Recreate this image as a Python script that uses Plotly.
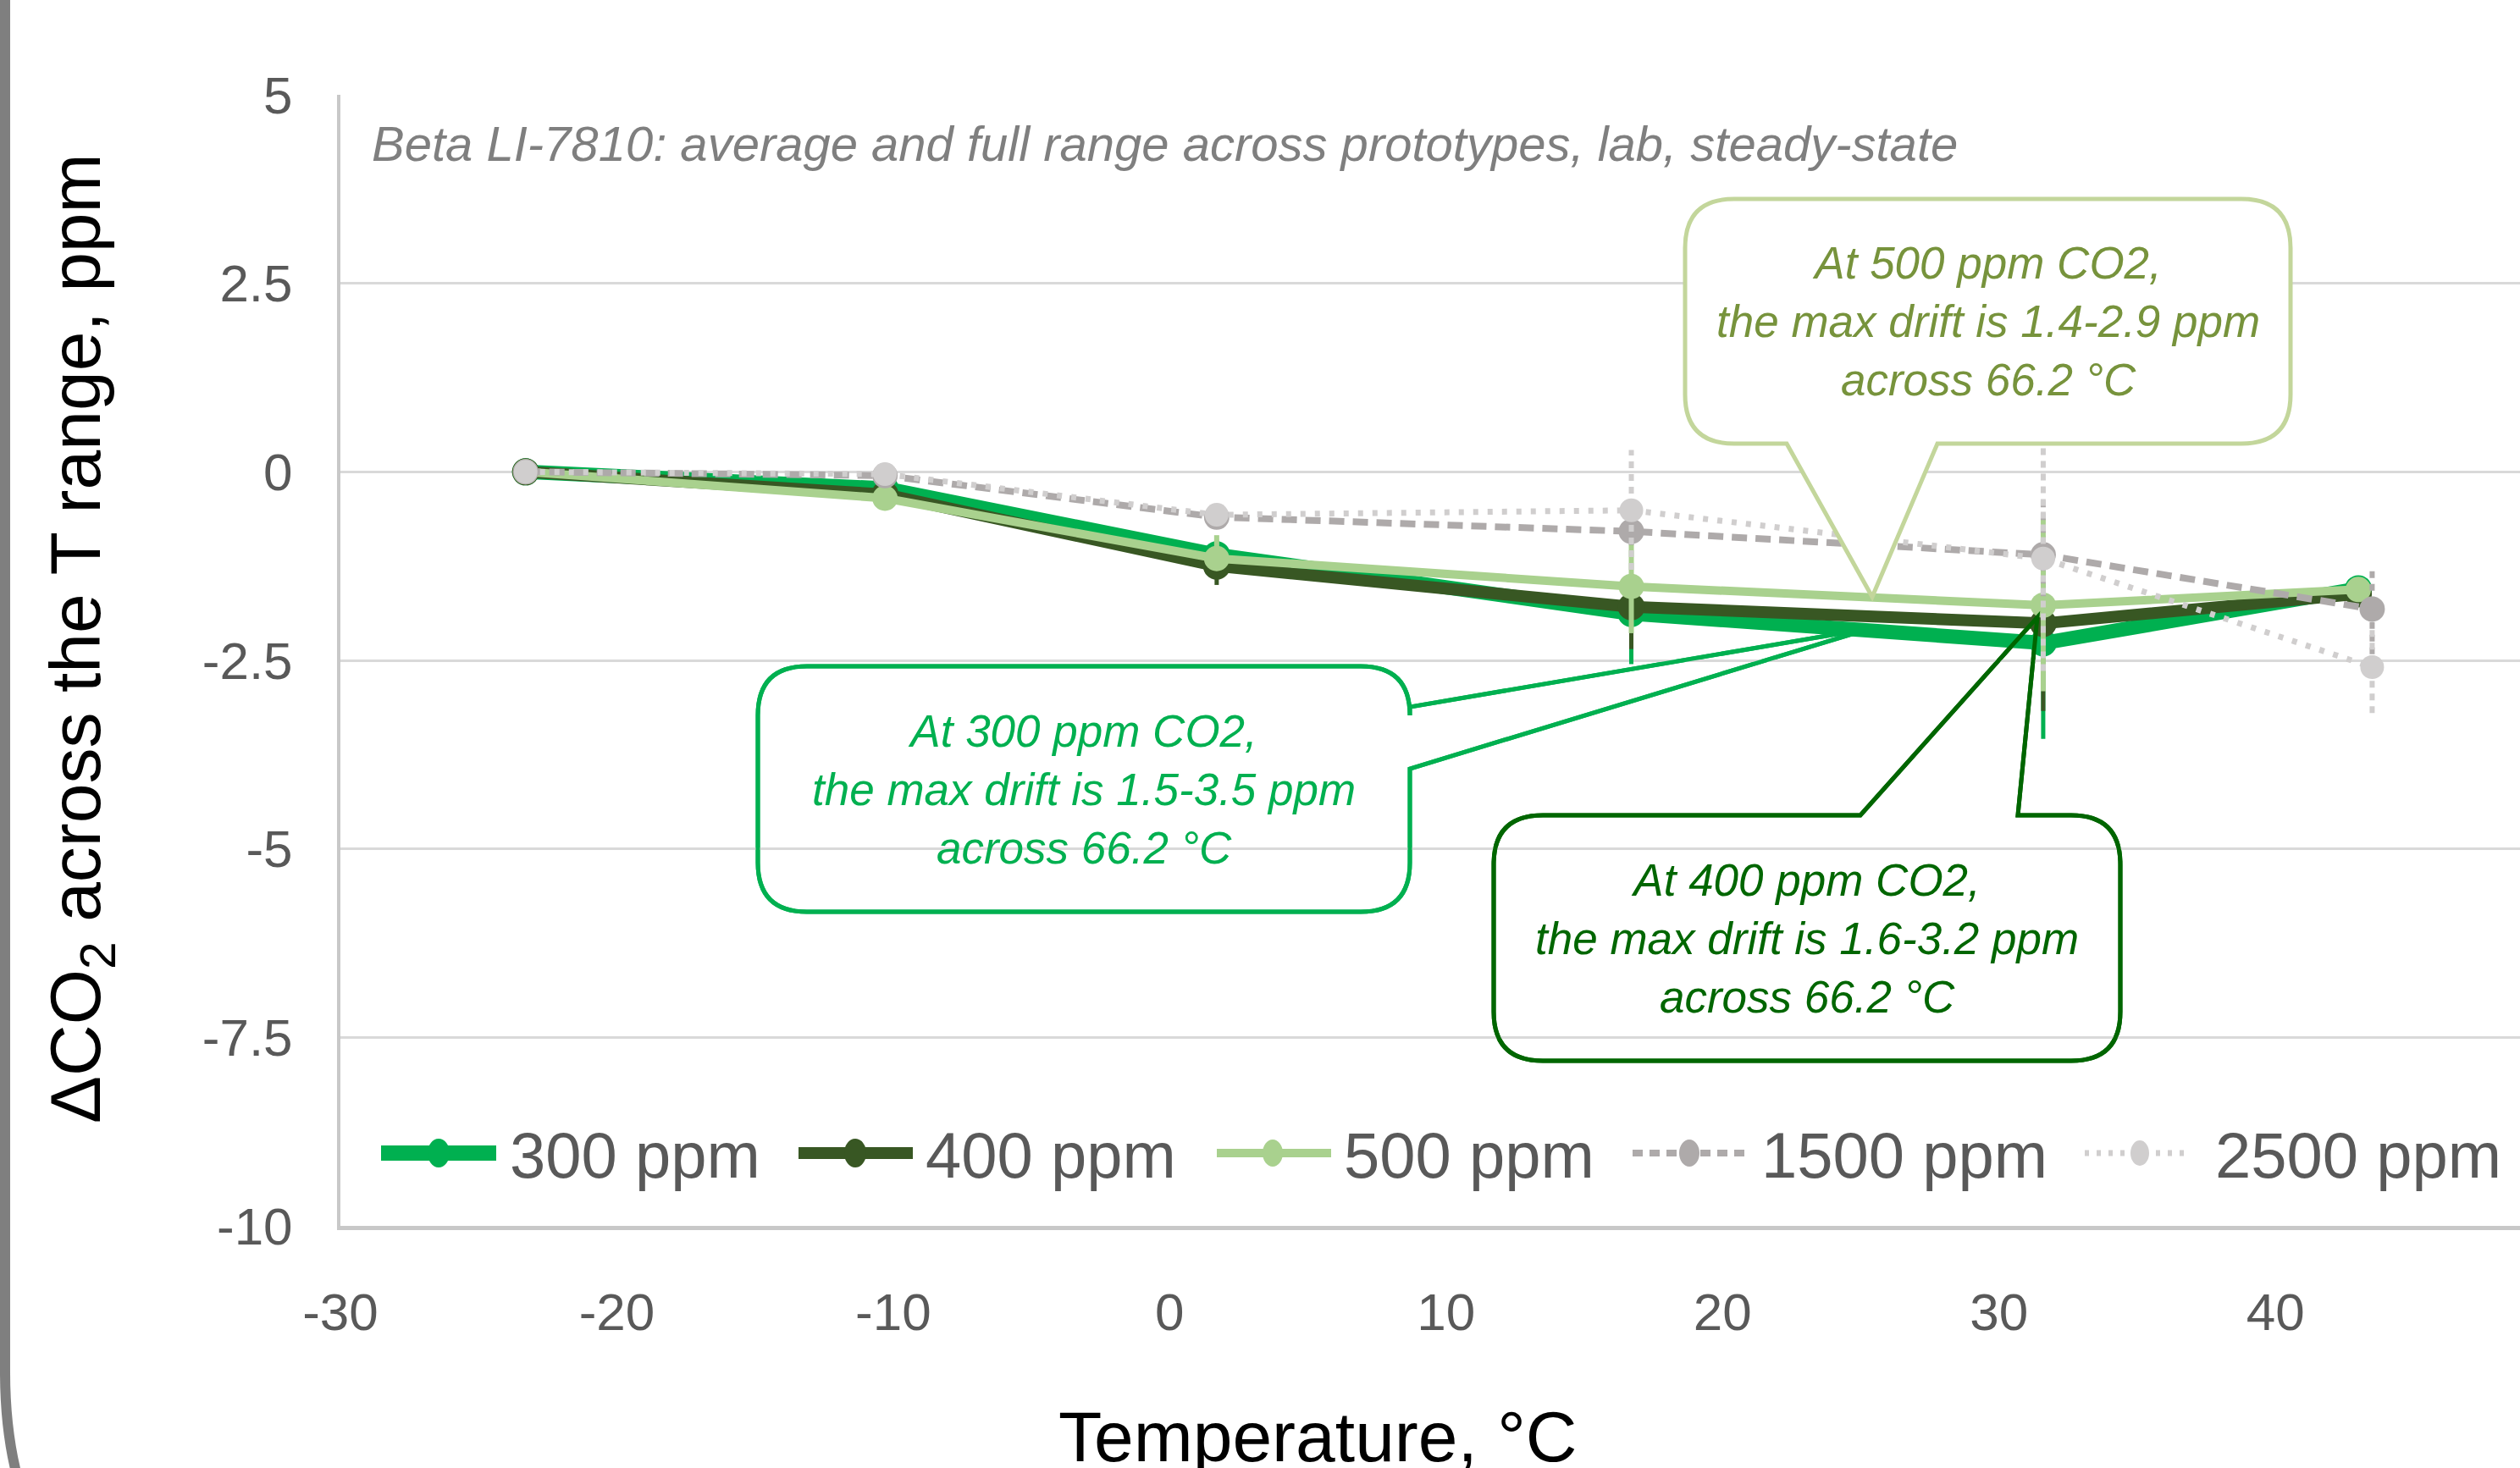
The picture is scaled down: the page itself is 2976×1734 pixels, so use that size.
import plotly.graph_objects as go

# ---------------- data ----------------
TEMP_GREEN = [-23.3, -10.3, 1.7, 16.7, 31.6, 43.0]
TEMP_GRAY = [-23.3, -10.3, 1.7, 16.7, 31.6, 43.5]

SERIES_NAMES = ["300 ppm", "400 ppm", "500 ppm", "1500 ppm", "2500 ppm"]

MEAN_300 = [0.0, -0.22, -1.10, -1.88, -2.27, -1.55]
MIN_300 = [0.0, -0.30, -1.35, -2.55, -3.54, -1.70]
MAX_300 = [0.0, -0.15, -0.90, -1.20, -1.00, -1.40]

MEAN_400 = [0.0, -0.30, -1.25, -1.79, -2.01, -1.62]
MIN_400 = [0.0, -0.40, -1.50, -2.35, -3.17, -1.75]
MAX_400 = [0.0, -0.20, -1.00, -1.30, -0.85, -1.45]

MEAN_500 = [0.0, -0.35, -1.15, -1.52, -1.77, -1.56]
MIN_500 = [0.0, -0.42, -1.30, -2.14, -2.91, -1.70]
MAX_500 = [0.0, -0.25, -0.84, -0.96, -0.62, -1.40]

MEAN_1500 = [0.0, -0.05, -0.60, -0.79, -1.10, -1.82]
MIN_1500 = [0.0, -0.10, -0.70, -0.97, -1.65, -2.42]
MAX_1500 = [0.0, 0.00, -0.50, -0.60, -0.31, -1.24]

MEAN_2500 = [0.0, -0.03, -0.57, -0.51, -1.15, -2.59]
MIN_2500 = [0.0, -0.08, -0.65, -1.30, -2.64, -3.20]
MAX_2500 = [0.0, 0.02, -0.50, 0.29, 0.33, -2.08]

X_TICKS = [-30, -20, -10, 0, 10, 20, 30, 40]
X_TICK_LABELS = ["-30", "-20", "-10", "0", "10", "20", "30", "40"]
Y_TICKS = [5, 2.5, 0, -2.5, -5, -7.5, -10]
Y_TICK_LABELS = ["5", "2.5", "0", "-2.5", "-5", "-7.5", "-10"]

TITLE = "Beta LI-7810: average and full range across prototypes, lab, steady-state"
Y_TITLE = "ΔCO<sub>2</sub> across the T range, ppm"
X_TITLE = "Temperature, °C"
CALLOUT_500 = "At 500 ppm CO2,<br>the max drift is 1.4-2.9 ppm<br>across 66.2 °C"
CALLOUT_300 = "At 300 ppm CO2,<br>the max drift is 1.5-3.5 ppm<br>across 66.2 °C"
CALLOUT_400 = "At 400 ppm CO2,<br>the max drift is 1.6-3.2 ppm<br>across 66.2 °C"

# ---------------- layout constants ----------------
W, H = 2976, 1734
PL, PR, PT, PB = 402, 2976, 112, 1448
X_RANGE = [-30, -30 + (PR - PL) / 32.645]
Y_RANGE = [-10, 5]

SANS = "Liberation Sans, Arial, sans-serif"

C300, C400, C500, C1500, C2500 = "#00B050", "#385723", "#A9D18E", "#AEAAAA", "#D0CECE"


def pxp(x):
    return (x - PL) / (PR - PL)


def pyp(y):
    return (PB - y) / (PB - PT)


series = [
    dict(name=SERIES_NAMES[0], x=TEMP_GREEN, m=MEAN_300, lo=MIN_300, hi=MAX_300, c=C300,
         w=17, dash="solid", ms=32, ew=5, edash="solid"),
    dict(name=SERIES_NAMES[1], x=TEMP_GREEN, m=MEAN_400, lo=MIN_400, hi=MAX_400, c=C400,
         w=14, dash="solid", ms=32, ew=5, edash="solid"),
    dict(name=SERIES_NAMES[2], x=TEMP_GREEN, m=MEAN_500, lo=MIN_500, hi=MAX_500, c=C500,
         w=10, dash="solid", ms=30, ew=6, edash="solid"),
    dict(name=SERIES_NAMES[3], x=TEMP_GRAY, m=MEAN_1500, lo=MIN_1500, hi=MAX_1500, c=C1500,
         w=8, dash="18px,10px", ms=30, ew=6, edash="8px,7px"),
    dict(name=SERIES_NAMES[4], x=TEMP_GRAY, m=MEAN_2500, lo=MIN_2500, hi=MAX_2500, c=C2500,
         w=7, dash="6px,11px", ms=28, ew=6, edash="8px,7px"),
]

fig = go.Figure()

for s in series:
    ex, ey = [], []
    for xv, lo, hi in zip(s["x"], s["lo"], s["hi"]):
        if hi - lo > 1e-9:
            ex += [xv, xv, None]
            ey += [lo, hi, None]
    fig.add_trace(go.Scatter(x=ex, y=ey, mode="lines", showlegend=False, hoverinfo="skip",
                             line=dict(color=s["c"], width=s["ew"], dash=s["edash"])))
    fig.add_trace(go.Scatter(x=s["x"], y=s["m"], name=s["name"], mode="lines+markers",
                             line=dict(color=s["c"], width=s["w"], dash=s["dash"]),
                             marker=dict(symbol="circle", size=s["ms"], color=s["c"],
                                         line=dict(width=0))))

# ---------------- shapes ----------------
shapes = []


def callout_path(x0, y0, x1, y1, r, side, a, b, tip):
    P = lambda X, Y: f"{pxp(X):.5f},{pyp(Y):.5f}"
    d = [f"M{P(x0 + r, y0)}"]
    if side == "top":
        d += [f"L{P(a, y0)}", f"L{P(*tip)}", f"L{P(b, y0)}"]
    d += [f"L{P(x1 - r, y0)}", f"Q{P(x1, y0)} {P(x1, y0 + r)}"]
    if side == "right":
        d += [f"L{P(x1, a)}", f"L{P(*tip)}", f"L{P(x1, b)}"]
    d += [f"L{P(x1, y1 - r)}", f"Q{P(x1, y1)} {P(x1 - r, y1)}"]
    if side == "bottom":
        d += [f"L{P(b, y1)}", f"L{P(*tip)}", f"L{P(a, y1)}"]
    d += [f"L{P(x0 + r, y1)}", f"Q{P(x0, y1)} {P(x0, y1 - r)}"]
    d += [f"L{P(x0, y0 + r)}", f"Q{P(x0, y0)} {P(x0 + r, y0)}", "Z"]
    return " ".join(d)


callouts = [
    dict(box=(1990, 235, 2705, 524), side="bottom", a=2110, b=2288, tip=(2211, 705),
         border="#C3D69B", text=CALLOUT_500, tc="#77933C", layer="above"),
    dict(box=(895, 787, 1665, 1077), side="right", a=835, b=908, tip=(2210, 742),
         border=C300, text=CALLOUT_300, tc=C300, layer="between"),
    dict(box=(1764, 963, 2504, 1253), side="top", a=2197, b=2383, tip=(2406, 729),
         border="#006600", text=CALLOUT_400, tc="#006600", layer="between"),
]

annotations = []
for c in callouts:
    x0, y0, x1, y1 = c["box"]
    path = callout_path(x0, y0, x1, y1, 58, c["side"], c["a"], c["b"], c["tip"])
    shapes.append(dict(type="path", xref="paper", yref="paper", path=path,
                       fillcolor="white", line=dict(color=c["border"], width=5),
                       layer=c["layer"]))
    if c["layer"] != "above":
        shapes.append(dict(type="path", xref="paper", yref="paper", path=path,
                           fillcolor="rgba(0,0,0,0)", line=dict(color=c["border"], width=5),
                           layer="above"))
    annotations.append(dict(xref="paper", yref="paper", x=pxp((x0 + x1) / 2),
                            y=pyp((y0 + y1) / 2), xanchor="center", yanchor="middle",
                            text="<i>" + c["text"] + "</i>", showarrow=False, align="center",
                            font=dict(family=SANS, size=53, color=c["tc"])))

# outer rounded frame (left edge)
shapes.append(dict(type="path", xref="paper", yref="paper",
                   path=f"M{pxp(6):.5f},{pyp(-100):.5f} L{pxp(6):.5f},{pyp(1620):.5f} "
                        f"Q{pxp(6):.5f},{pyp(1955):.5f} {pxp(341):.5f},{pyp(1955):.5f}",
                   line=dict(color="#7F7F7F", width=12), fillcolor="rgba(0,0,0,0)",
                   layer="above"))

# manual legend
LEG_Y = 1362
leg_pos = [(450, 586, 518, 600), (943, 1078, 1010, 1091), (1437, 1572, 1503, 1585),
           (1928, 2065, 1995, 2078), (2462, 2587, 2527, 2614)]
leg_w = [18, 14, 10, 8, 7]
leg_dash = ["solid", "solid", "solid", "12px,8px", "5px,9px"]
leg_mw = [26, 26, 24, 24, 22]
leg_mh = [34, 34, 32, 32, 30]
for s, (lx0, lx1, mx, tx), lw, ld, mw, mh in zip(series, leg_pos, leg_w, leg_dash, leg_mw, leg_mh):
    shapes.append(dict(type="line", xref="paper", yref="paper", x0=pxp(lx0), x1=pxp(lx1),
                       y0=pyp(LEG_Y), y1=pyp(LEG_Y), line=dict(color=s["c"], width=lw, dash=ld),
                       layer="above"))
    shapes.append(dict(type="circle", xref="paper", yref="paper",
                       x0=pxp(mx - mw / 2), x1=pxp(mx + mw / 2),
                       y0=pyp(LEG_Y - mh / 2), y1=pyp(LEG_Y + mh / 2),
                       fillcolor=s["c"], line=dict(width=0), layer="above"))
    annotations.append(dict(xref="paper", yref="paper", x=pxp(tx), y=pyp(LEG_Y + 2),
                            xanchor="left", yanchor="middle", text=s["name"], showarrow=False,
                            font=dict(family=SANS, size=76, color="#595959")))

# titles
annotations.append(dict(xref="paper", yref="paper", x=pxp(437), y=pyp(169), xanchor="left",
                        yanchor="middle", text="<i>" + TITLE + "</i>", showarrow=False,
                        font=dict(family=SANS, size=58, color="#7F7F7F")))
annotations.append(dict(xref="paper", yref="paper", x=pxp(95), y=pyp(754), xanchor="center",
                        yanchor="middle", text=Y_TITLE, textangle=-90, showarrow=False,
                        font=dict(family=SANS, size=84, color="black")))
annotations.append(dict(xref="paper", yref="paper", x=pxp(1556), y=pyp(1648), xanchor="center",
                        yanchor="top", text=X_TITLE, showarrow=False,
                        font=dict(family=SANS, size=84, color="black")))

fig.update_layout(
    width=W, height=H, showlegend=False,
    paper_bgcolor="white", plot_bgcolor="white",
    margin=dict(l=PL, r=W - PR, t=PT, b=H - PB, pad=0),
    font=dict(family=SANS),
    shapes=shapes, annotations=annotations,
)
fig.update_xaxes(range=X_RANGE, tickvals=X_TICKS, ticktext=X_TICK_LABELS, showgrid=False,
                 zeroline=False, showline=True, linecolor="#C8C8C8", linewidth=5, ticks="",
                 tickfont=dict(family=SANS, size=62, color="#595959"), ticklabelstandoff=44,
                 automargin=False, fixedrange=True)
fig.update_yaxes(range=Y_RANGE, tickvals=Y_TICKS, ticktext=Y_TICK_LABELS, showgrid=True,
                 gridcolor="#D9D9D9", gridwidth=3, zeroline=False, showline=True,
                 linecolor="#C8C8C8", linewidth=4, ticks="",
                 tickfont=dict(family=SANS, size=62, color="#595959"), ticklabelstandoff=40,
                 automargin=False, fixedrange=True)

fig.write_html("out.html")
